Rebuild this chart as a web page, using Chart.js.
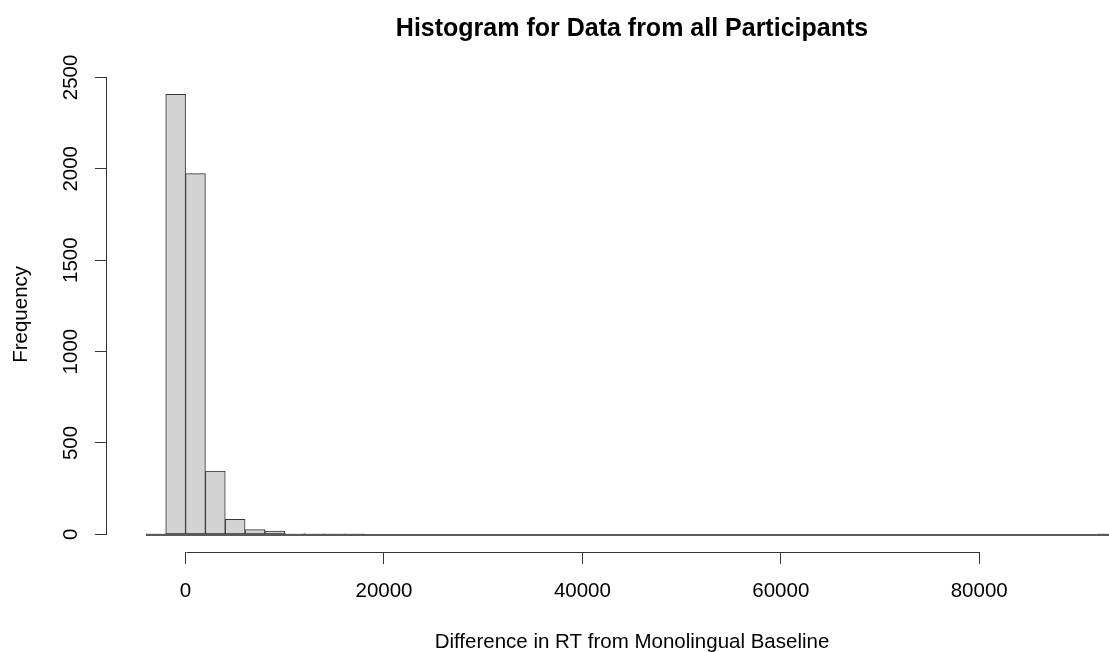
<!DOCTYPE html>
<html>
<head>
<meta charset="utf-8">
<title>Histogram for Data from all Participants</title>
<script src="https://cdn.jsdelivr.net/npm/chart.js@4.4.1/dist/chart.umd.min.js"></script>
<style>
  html, body { margin: 0; padding: 0; background: #ffffff; overflow: hidden; }
  canvas { display: block; }
</style>
</head>
<body>
<canvas id="hist" width="1157" height="652"></canvas>
<script>
// Histogram breaks (bin edges, ms) and the count in each bin
const binEdges = [
  -4000, -2000, 0, 2000, 4000, 6000, 8000, 10000, 12000, 14000,
  16000, 18000, 20000, 22000, 24000, 26000, 28000, 30000, 32000, 34000,
  36000, 38000, 40000, 42000, 44000, 46000, 48000, 50000, 52000, 54000,
  56000, 58000, 60000, 62000, 64000, 66000, 68000, 70000, 72000, 74000,
  76000, 78000, 80000, 82000, 84000, 86000, 88000, 90000, 92000, 94000
];
const binCounts = [
  1, 2407, 1974, 346, 82, 26, 18, 5, 2, 1,
  1, 0, 0, 0, 0, 0, 0, 0, 0, 0,
  0, 0, 0, 0, 0, 0, 0, 0, 0, 0,
  0, 0, 0, 0, 0, 0, 0, 0, 0, 0,
  0, 0, 0, 0, 0, 0, 0, 0, 1
];
const xTickValues = [0, 20000, 40000, 60000, 80000];
const yTickValues = [0, 500, 1000, 1500, 2000, 2500];

const chartTitle = 'Histogram for Data from all Participants';
const xAxisTitle = 'Difference in RT from Monolingual Baseline';
const yAxisTitle = 'Frequency';

// one bar per bin, centred on the bin
const barPoints = binCounts.map((c, i) => ({ x: (binEdges[i] + binEdges[i + 1]) / 2, y: c }));

// axis ranges padded by 4% on each side, like base R graphics
const xFirst = binEdges[0];
const xLast = binEdges[binEdges.length - 1];
const xPad = 0.04 * (xLast - xFirst);
const yPeak = Math.max(...binCounts);
const yPad = 0.04 * yPeak;

const ink = '#333333';
Chart.defaults.font.family = '"Liberation Sans", Arial, Helvetica, sans-serif';
Chart.defaults.color = '#000000';

// Axis lines span only the first to last tick; empty bins show as a line along zero
const histFrame = {
  id: 'histFrame',
  afterDatasetsDraw(chart) {
    const { ctx, chartArea, scales: { x, y } } = chart;
    ctx.save();
    // zero-height bins
    const y0 = Math.round(y.getPixelForValue(0)) + 1;
    ctx.strokeStyle = '#5a5a5a';
    ctx.lineWidth = 2;
    ctx.beginPath();
    ctx.moveTo(x.getPixelForValue(xFirst), y0);
    ctx.lineTo(x.getPixelForValue(xLast), y0);
    ctx.stroke();
    // axis lines
    ctx.strokeStyle = ink;
    ctx.lineWidth = 1;
    const bx = Math.round(chartArea.left) - 0.5;
    const by = Math.round(chartArea.bottom) + 0.5;
    ctx.beginPath();
    ctx.moveTo(Math.round(x.getPixelForValue(xTickValues[0])) + 0.5, by);
    ctx.lineTo(Math.round(x.getPixelForValue(xTickValues[xTickValues.length - 1])) + 0.5, by);
    ctx.moveTo(bx, Math.round(y.getPixelForValue(yTickValues[0])) + 0.5);
    ctx.lineTo(bx, Math.round(y.getPixelForValue(yTickValues[yTickValues.length - 1])) + 0.5);
    ctx.stroke();
    ctx.restore();
  }
};

new Chart(document.getElementById('hist'), {
  type: 'bar',
  data: {
    datasets: [{
      data: barPoints,
      backgroundColor: '#d3d3d3',
      borderColor: ink,
      borderWidth: 1,
      borderSkipped: false,
      barPercentage: 1,
      categoryPercentage: 1
    }]
  },
  options: {
    responsive: false,
    animation: false,
    events: [],
    layout: { padding: 0 },
    plugins: {
      legend: { display: false },
      tooltip: { enabled: false },
      title: {
        display: true,
        text: chartTitle,
        fullSize: false,
        color: '#000000',
        font: { size: 25, weight: 'bold', lineHeight: 1.2 },
        padding: { top: 14.3, bottom: 32.5 }
      }
    },
    scales: {
      x: {
        type: 'linear',
        min: xFirst - xPad,
        max: xLast + xPad,
        offset: false,
        grid: { display: true, drawOnChartArea: false, drawTicks: true, tickLength: 12, color: ink, offset: false },
        border: { display: false },
        ticks: {
          autoSkip: false, minRotation: 0, maxRotation: 0, padding: 15,
          color: '#000000', font: { size: 20.5 },
          callback: (v) => String(v)
        },
        afterBuildTicks: (s) => { s.ticks = xTickValues.map((v) => ({ value: v })); },
        afterFit: (s) => { s.height = 100; },
        title: { display: true, text: xAxisTitle, color: '#000000', font: { size: 20.5, lineHeight: 0.92 }, padding: 0 }
      },
      y: {
        type: 'linear',
        min: -yPad,
        max: yPeak + yPad,
        grid: { display: true, drawOnChartArea: false, drawTicks: true, tickLength: 12, color: ink },
        border: { display: false },
        ticks: {
          autoSkip: false, minRotation: 90, maxRotation: 90, crossAlign: 'center', padding: 0.6,
          color: '#000000', font: { size: 20.5 },
          callback: (v) => String(v)
        },
        afterBuildTicks: (s) => { s.ticks = yTickValues.map((v) => ({ value: v })); },
        afterFit: (s) => { s.width = 107; },
        title: { display: true, text: yAxisTitle, color: '#000000', font: { size: 20.5 }, padding: { top: 8.7, bottom: 0 } }
      }
    }
  },
  plugins: [histFrame]
});
</script>
</body>
</html>
